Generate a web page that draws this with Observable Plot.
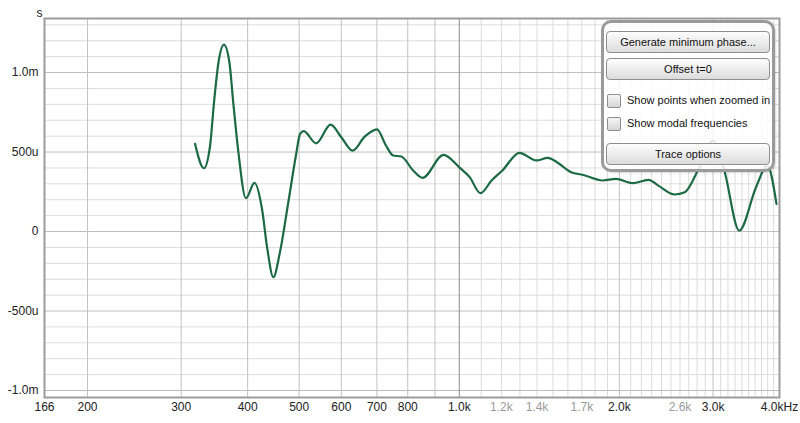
<!DOCTYPE html>
<html><head><meta charset="utf-8">
<script src="https://cdn.jsdelivr.net/npm/d3@7"></script>
<script src="https://cdn.jsdelivr.net/npm/@observablehq/plot@0.6"></script>
<style>
body{margin:0;background:#fff;}
#wrap{position:relative;width:800px;height:423px;font-family:"Liberation Sans",Arial,sans-serif;overflow:hidden;}
#panel{position:absolute;left:601px;top:20px;width:168px;height:146px;border:3px solid #9a9a9a;border-radius:10px;background:rgba(255,255,255,0.86);box-shadow:1px 1px 2px rgba(0,0,0,0.15);}
.btn{position:absolute;left:2px;width:162px;height:20px;border:1px solid #8e8e8e;border-radius:4px;background:linear-gradient(#fdfdfd,#dcdcdc);font-size:11px;line-height:20px;text-align:center;color:#111;}
.chk{position:absolute;left:3px;width:12px;height:12px;border:1px solid #8e8e8e;border-radius:2px;background:linear-gradient(#f6f6f6,#d6d6d6);}
.lbl{position:absolute;left:23px;font-size:11px;line-height:14px;color:#111;white-space:nowrap;}
</style>
</head><body>
<div id="wrap">
  <div id="chart"></div>
  <div id="panel">
    <div class="btn" style="top:8px">Generate minimum phase...</div>
    <div class="btn" style="top:35px">Offset t=0</div>
    <div class="chk" style="top:71px"></div><div class="lbl" style="top:70px">Show points when zoomed in</div>
    <div class="chk" style="top:94px"></div><div class="lbl" style="top:93px">Show modal frequencies</div>
    <div class="btn" style="top:120px">Trace options</div>
  </div>
</div>
<script>
// Group delay trace (frequency in Hz, delay in microseconds)
const freq  = [318.6, 331, 340, 345.8, 352.6, 361, 369.6, 375.8, 384.3, 397, 412, 425.6, 435.6, 447, 460, 477, 493, 502, 510, 538, 573, 600, 630, 664, 700, 728, 751, 778, 819, 853, 934, 1000, 1046, 1096, 1150, 1205, 1298, 1396, 1467, 1526, 1623, 1706, 1862, 1970, 2120, 2268, 2367, 2540, 2654, 2828, 3000, 3150, 3360, 3614, 3795, 3948];
const delay = [551, 398, 541, 813, 1065, 1176, 1065, 813, 499, 210, 306, 143, -109, -287, -130, 184, 478, 614, 631, 555, 673, 593, 509, 597, 643, 541, 478, 472, 384, 338, 482, 404, 342, 241, 321, 384, 495, 447, 463, 436, 373, 357, 321, 331, 304, 325, 289, 233, 247, 404, 572, 384, 6, 279, 415, 174];

const yTicks = [-1000, -500, 0, 500, 1000];
const yTickLabels = ["-1.0m", "-500u", "0", "500u", "1.0m"];
const xTicksMain = [166, 200, 300, 400, 500, 600, 700, 800, 1000, 2000, 3000, 4000];
const xTickLabelsMain = ["166", "200", "300", "400", "500", "600", "700", "800", "1.0k", "2.0k", "3.0k", "4.0kHz"];
const xTicksGray = [1200, 1400, 1700, 2600];
const xTickLabelsGray = ["1.2k", "1.4k", "1.7k", "2.6k"];

const trace = freq.map((f, i) => ({f, d: delay[i]}));
const yLab = new Map(yTicks.map((t, i) => [t, yTickLabels[i]]));
const xLabMain = new Map(xTicksMain.map((t, i) => [t, xTickLabelsMain[i]]));
const xLabGray = new Map(xTicksGray.map((t, i) => [t, xTickLabelsGray[i]]));

// grid positions
const vMid = [200, 300, 400, 500, 600, 700, 800, 900, 2000, 3000];
const vDark = [1000];
const vLight = d3.range(1100, 4000, 100).filter(v => v % 1000 !== 0);
const hAll = d3.range(-1000, 1301, 100);
const hMajor = hAll.filter(v => v % 500 === 0);
const hMinor = hAll.filter(v => v % 500 !== 0);

const chart = Plot.plot({
  width: 800, height: 423,
  marginLeft: 44, marginRight: 21, marginTop: 18, marginBottom: 26,
  style: {fontFamily: "'Liberation Sans', Arial, sans-serif", fontSize: "12px", color: "#222", background: "#fff"},
  x: {type: "log", domain: [166, 4000], axis: null},
  y: {domain: [-1044, 1340], axis: null},
  marks: [
    Plot.ruleY(hMinor, {stroke: "#dcdcdc", strokeWidth: 1}),
    Plot.ruleX(vLight, {stroke: "#dcdcdc", strokeWidth: 1}),
    Plot.ruleY(hMajor, {stroke: "#bdbdbd", strokeWidth: 1}),
    Plot.ruleX(vMid, {stroke: "#c2c2c2", strokeWidth: 1}),
    Plot.ruleX(vDark, {stroke: "#8c8c8c", strokeWidth: 1}),
    Plot.line(trace, {x: "f", y: "d", stroke: "#1b6a43", strokeWidth: 2.2, curve: "monotone-x"}),
    Plot.frame({stroke: "#9c9c9c", strokeWidth: 2}),
    Plot.text(yTicks, {y: d => d, frameAnchor: "left", dx: -6, textAnchor: "end", text: d => yLab.get(d), fill: "#222"}),
    Plot.text(xTicksMain, {x: d => d, frameAnchor: "bottom", dy: 13, text: d => xLabMain.get(d), fill: "#222"}),
    Plot.text(xTicksGray, {x: d => d, frameAnchor: "bottom", dy: 13, text: d => xLabGray.get(d), fill: "#9a9a9a"}),
    Plot.text(["s"], {frameAnchor: "top-left", dx: -8, dy: -10, fill: "#222", fontSize: 12})
  ]
});
document.getElementById("chart").appendChild(chart);
</script>
</body></html>
